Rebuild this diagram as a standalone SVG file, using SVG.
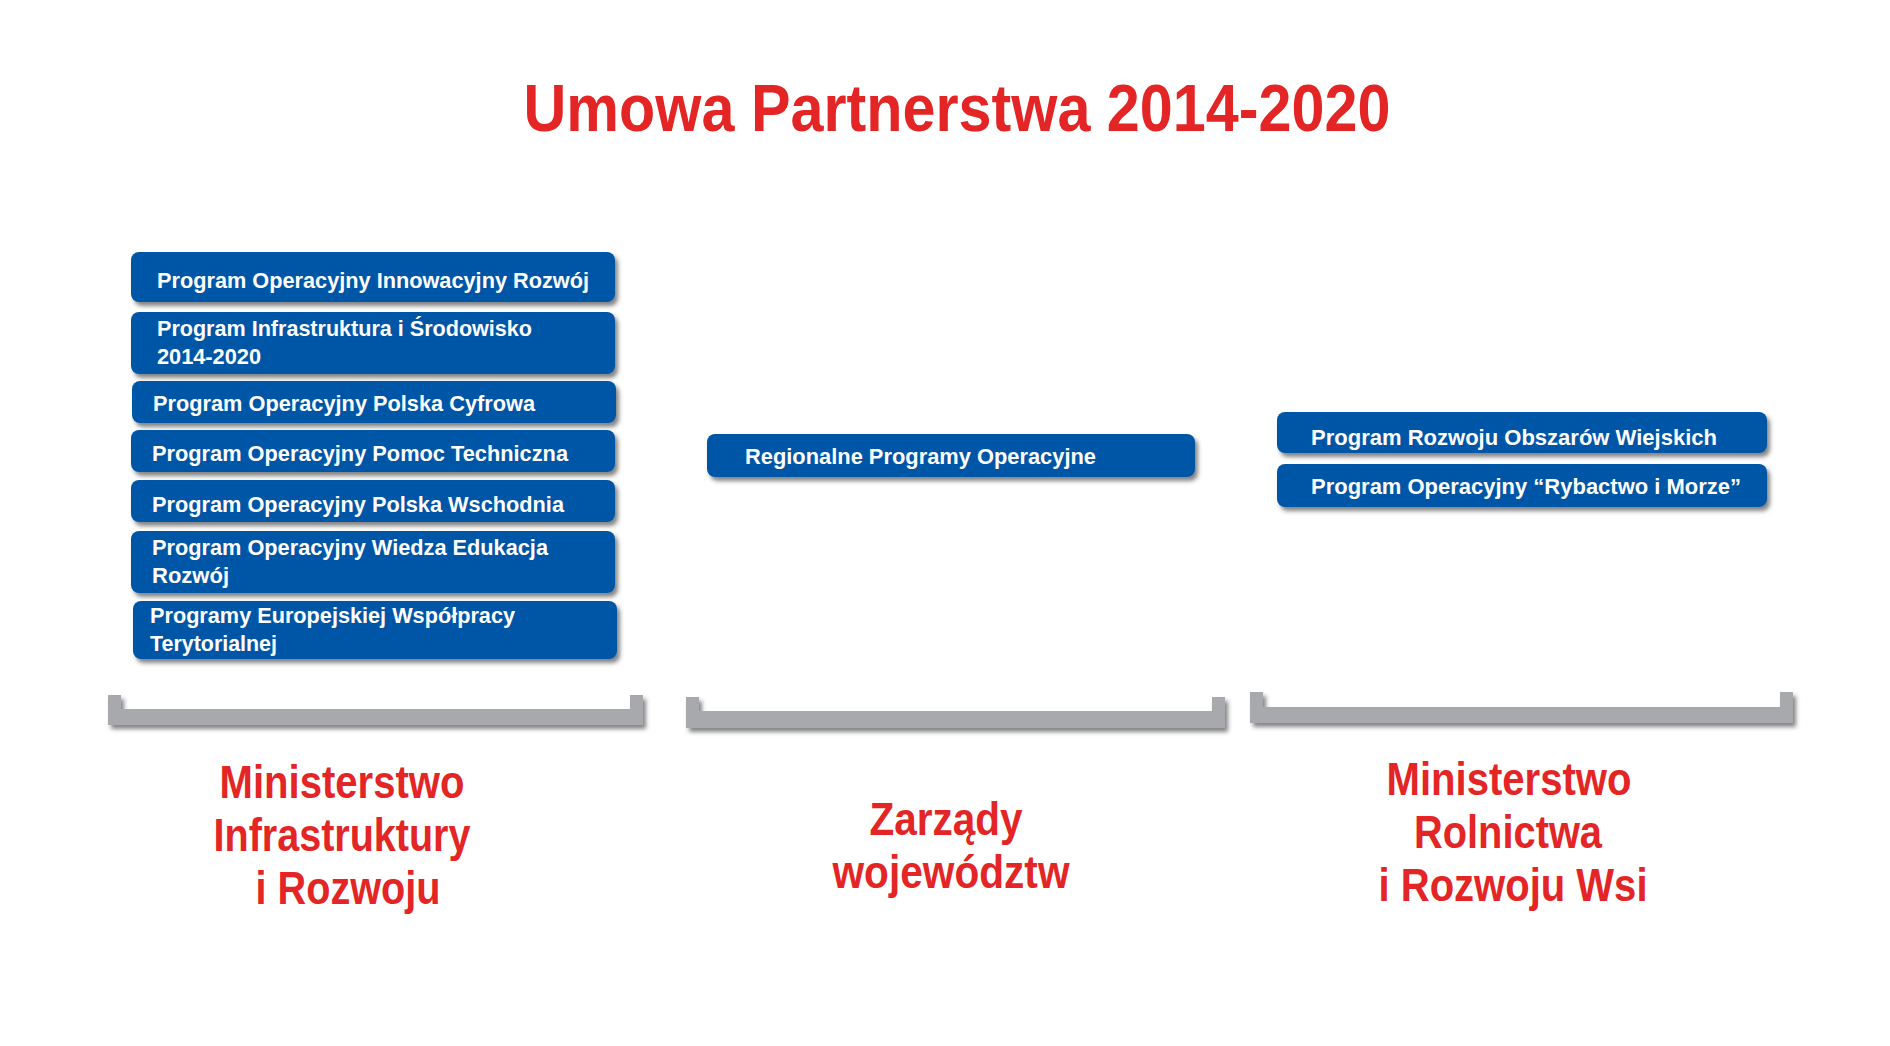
<svg xmlns="http://www.w3.org/2000/svg" width="1890" height="1046" viewBox="0 0 1890 1046">
<defs>
<filter id="sh" x="-5%" y="-20%" width="110%" height="150%"><feDropShadow dx="3" dy="4" stdDeviation="2" flood-color="#333" flood-opacity="0.6"/></filter>
<style>
.b{fill:#0056a6;filter:url(#sh)}
.t{font-family:"Liberation Sans",Arial,sans-serif;font-size:22px;font-weight:bold;fill:#fff}
.r{font-family:"Liberation Sans",Arial,sans-serif;font-size:46px;font-weight:bold;fill:#e32526;text-anchor:middle}
.k{fill:#a7a9ac;filter:url(#sh)}
</style>
</defs>
<rect width="1890" height="1046" fill="#fff"/>
<text x="957" y="131" font-family="Liberation Sans,Arial,sans-serif" font-size="66" font-weight="bold" fill="#e32526" text-anchor="middle" textLength="867" lengthAdjust="spacingAndGlyphs">Umowa Partnerstwa 2014-2020</text>
<g id="n1"><rect class="b" x="131" y="252" width="484" height="50" rx="8"/><text class="t" x="157" y="288" textLength="432" lengthAdjust="spacingAndGlyphs">Program Operacyjny Innowacyjny Rozwój</text></g>
<g id="n2"><rect class="b" x="131" y="312" width="484" height="62" rx="8"/><text class="t" x="157" y="336" textLength="375" lengthAdjust="spacingAndGlyphs">Program Infrastruktura i Środowisko</text><text class="t" x="157" y="364" textLength="104" lengthAdjust="spacingAndGlyphs">2014-2020</text></g>
<g id="n3"><rect class="b" x="132" y="381" width="484" height="42" rx="8"/><text class="t" x="153" y="411" textLength="382" lengthAdjust="spacingAndGlyphs">Program Operacyjny Polska Cyfrowa</text></g>
<g id="n4"><rect class="b" x="131" y="430" width="484" height="42" rx="8"/><text class="t" x="152" y="461" textLength="416" lengthAdjust="spacingAndGlyphs">Program Operacyjny Pomoc Techniczna</text></g>
<g id="n5"><rect class="b" x="131" y="480" width="484" height="42" rx="8"/><text class="t" x="152" y="512" textLength="412" lengthAdjust="spacingAndGlyphs">Program Operacyjny Polska Wschodnia</text></g>
<g id="n6"><rect class="b" x="131" y="531" width="484" height="62" rx="8"/><text class="t" x="152" y="555" textLength="396" lengthAdjust="spacingAndGlyphs">Program Operacyjny Wiedza Edukacja</text><text class="t" x="152" y="583" textLength="77" lengthAdjust="spacingAndGlyphs">Rozwój</text></g>
<g id="n7"><rect class="b" x="133" y="601" width="484" height="58" rx="8"/><text class="t" x="150" y="623" textLength="365" lengthAdjust="spacingAndGlyphs">Programy Europejskiej Współpracy</text><text class="t" x="150" y="651" textLength="127" lengthAdjust="spacingAndGlyphs">Terytorialnej</text></g>
<g id="n8"><rect class="b" x="707" y="434" width="488" height="43" rx="8"/><text class="t" x="745" y="464" textLength="351" lengthAdjust="spacingAndGlyphs">Regionalne Programy Operacyjne</text></g>
<g id="n9"><rect class="b" x="1277" y="412" width="490" height="41" rx="8"/><text class="t" x="1311" y="445" textLength="406" lengthAdjust="spacingAndGlyphs">Program Rozwoju Obszarów Wiejskich</text></g>
<g id="n10"><rect class="b" x="1277" y="464" width="490" height="43" rx="8"/><text class="t" x="1311" y="494" textLength="430" lengthAdjust="spacingAndGlyphs">Program Operacyjny “Rybactwo i Morze”</text></g>
<g id="brackets">
<path class="k" d="M108 695H121V709H630V695H643V725H108Z"/>
<path class="k" d="M686 697H699V711H1212V697H1225V728H686Z"/>
<path class="k" d="M1250 692H1263V707H1780V692H1793V723H1250Z"/>
</g>
<g id="labels">
<text class="r" x="342" y="798" textLength="245" lengthAdjust="spacingAndGlyphs">Ministerstwo</text>
<text class="r" x="342" y="851" textLength="257" lengthAdjust="spacingAndGlyphs">Infrastruktury</text>
<text class="r" x="348" y="904" textLength="185" lengthAdjust="spacingAndGlyphs">i Rozwoju</text>
<text class="r" x="946" y="835" textLength="153" lengthAdjust="spacingAndGlyphs">Zarządy</text>
<text class="r" x="951" y="888" textLength="237" lengthAdjust="spacingAndGlyphs">województw</text>
<text class="r" x="1509" y="795" textLength="245" lengthAdjust="spacingAndGlyphs">Ministerstwo</text>
<text class="r" x="1508" y="848" textLength="188" lengthAdjust="spacingAndGlyphs">Rolnictwa</text>
<text class="r" x="1513" y="901" textLength="269" lengthAdjust="spacingAndGlyphs">i Rozwoju Wsi</text>
</g>
</svg>
